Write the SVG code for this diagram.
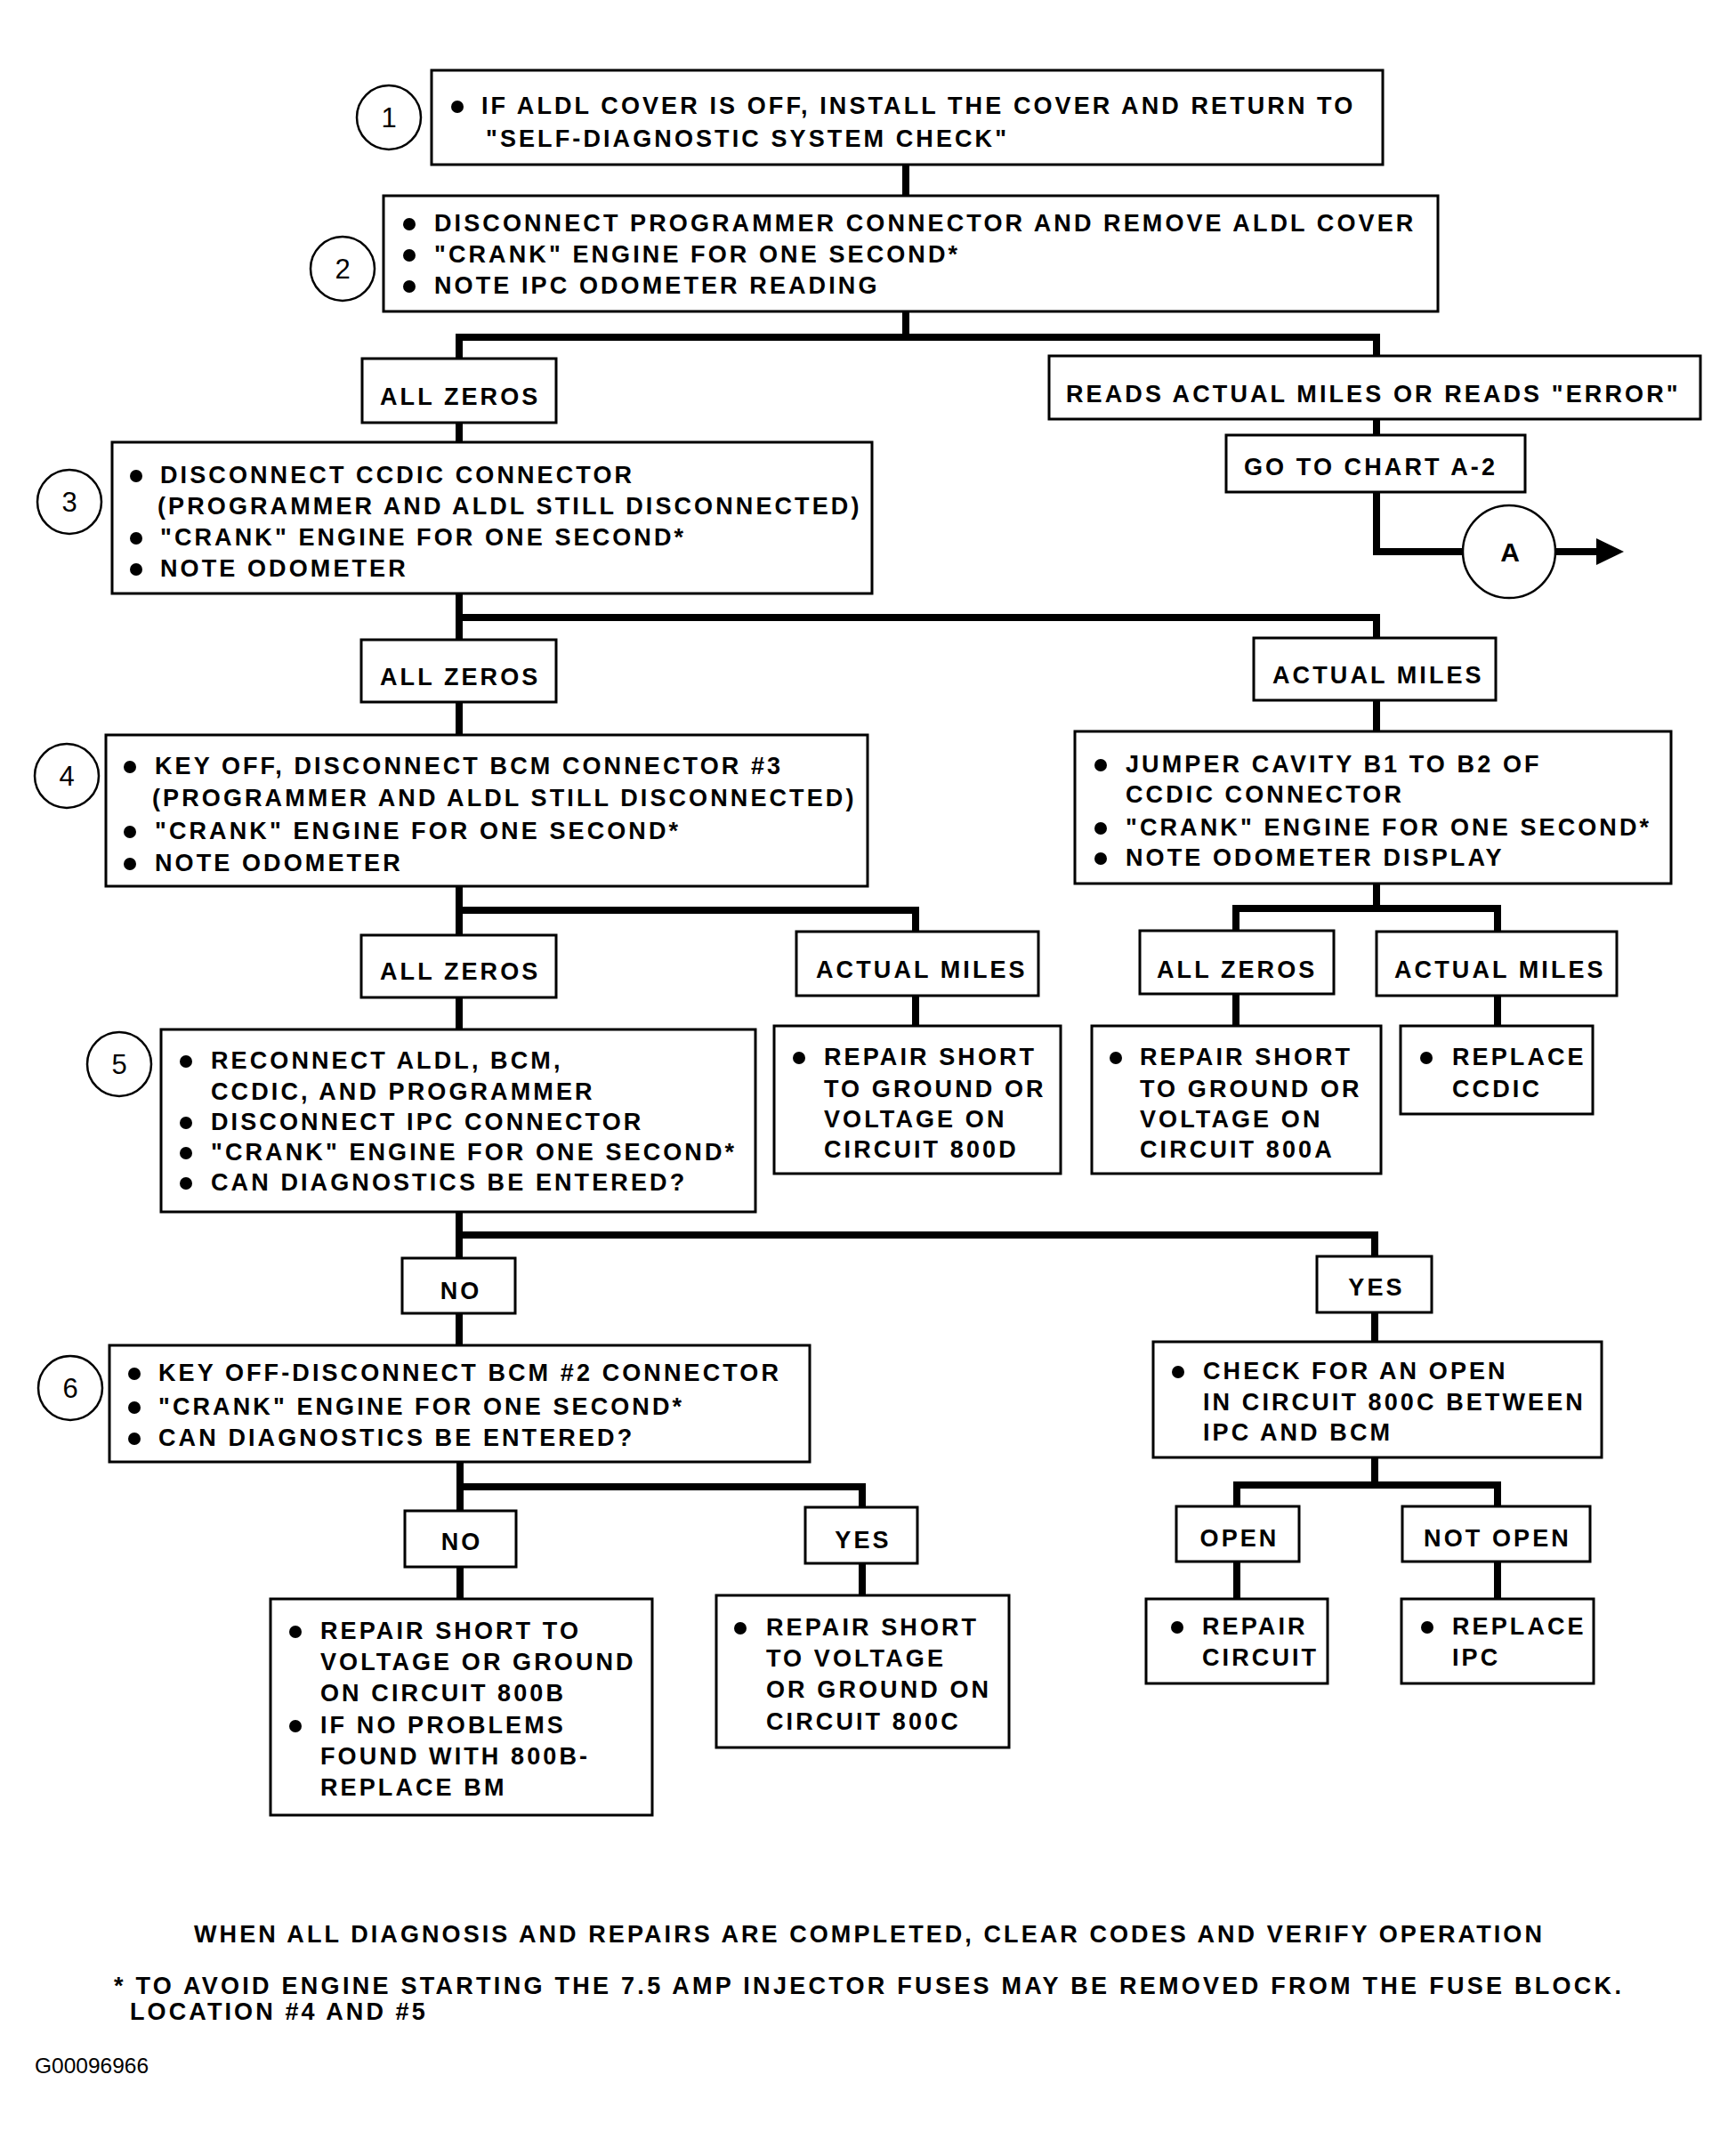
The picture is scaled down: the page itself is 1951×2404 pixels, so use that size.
<svg xmlns="http://www.w3.org/2000/svg" width="1951" height="2404" viewBox="0 0 1951 2404">
<style>
.b{fill:#fff;stroke:#000;stroke-width:3}
.nc{fill:#fff;stroke:#000;stroke-width:2.5}
.t{font-family:"Liberation Sans",Arial,sans-serif;font-size:27px;font-weight:bold;letter-spacing:3.1px;fill:#000}
.m{text-anchor:middle}
.num{font-family:"Liberation Sans",Arial,sans-serif;font-size:31px;text-anchor:middle;fill:#000}
.d{fill:#000}
.c{fill:none;stroke:#000;stroke-width:8;stroke-linejoin:miter;stroke-linecap:butt}
.f{font-family:"Liberation Sans",Arial,sans-serif;font-size:24.5px;fill:#000}
</style>
<rect width="1951" height="2404" fill="#fff"/>
<g id="connectors">
<path class="c" d="M1018 185V220"/>
<path class="c" d="M1018 350V379"/>
<path class="c" d="M516 403V379H1547V400"/>
<path class="c" d="M1547 471V489"/>
<path class="c" d="M1547 553V620H1644"/>
<path class="c" d="M1748 620H1800"/>
<polygon class="d" points="1794,605 1825,620 1794,635"/>
<path class="c" d="M516 475V497"/>
<path class="c" d="M516 667V719"/>
<path class="c" d="M516 694H1547V717"/>
<path class="c" d="M516 789V826"/>
<path class="c" d="M1547 787V822"/>
<path class="c" d="M516 996V1051"/>
<path class="c" d="M516 1023H1029V1047"/>
<path class="c" d="M516 1121V1157"/>
<path class="c" d="M1029 1119V1153"/>
<path class="c" d="M1547 993V1021"/>
<path class="c" d="M1389 1046V1021H1683V1047"/>
<path class="c" d="M1389 1117V1153"/>
<path class="c" d="M1683 1119V1153"/>
<path class="c" d="M516 1362V1414"/>
<path class="c" d="M516 1388H1545V1412"/>
<path class="c" d="M516 1476V1512"/>
<path class="c" d="M1545 1475V1508"/>
<path class="c" d="M517 1643V1698"/>
<path class="c" d="M517 1671H969V1694"/>
<path class="c" d="M517 1761V1797"/>
<path class="c" d="M969 1757V1793"/>
<path class="c" d="M1545 1638V1669"/>
<path class="c" d="M1390 1693V1669H1683V1693"/>
<path class="c" d="M1390 1755V1797"/>
<path class="c" d="M1683 1755V1797"/>
</g>
<g id="step1">
<circle class="nc" cx="437" cy="132" r="36"/>
<text class="num" x="437" y="143">1</text>
<rect class="b" x="485" y="79" width="1069" height="106"/>
<circle class="d" cx="514" cy="120" r="7"/>
<text class="t"><tspan x="541" y="128">IF ALDL COVER IS OFF, INSTALL THE COVER AND RETURN TO</tspan><tspan x="546" y="165">"SELF-DIAGNOSTIC SYSTEM CHECK"</tspan></text>
</g>
<g id="step2">
<circle class="nc" cx="385" cy="302" r="36"/>
<text class="num" x="385" y="313">2</text>
<rect class="b" x="431" y="220" width="1185" height="130"/>
<circle class="d" cx="460" cy="252" r="7"/>
<circle class="d" cx="460" cy="287" r="7"/>
<circle class="d" cx="460" cy="322" r="7"/>
<text class="t"><tspan x="488" y="260">DISCONNECT PROGRAMMER CONNECTOR AND REMOVE ALDL COVER</tspan><tspan x="488" y="295">"CRANK" ENGINE FOR ONE SECOND*</tspan><tspan x="488" y="330">NOTE IPC ODOMETER READING</tspan></text>
</g>
<g id="allzeros1">
<rect class="b" x="407" y="403" width="218" height="72"/>
<text class="t" x="427" y="455">ALL ZEROS</text>
</g>
<g id="reads-actual">
<rect class="b" x="1179" y="400" width="732" height="71"/>
<text class="t" x="1198" y="452">READS ACTUAL MILES OR READS "ERROR"</text>
</g>
<g id="goto-a2">
<rect class="b" x="1378" y="489" width="336" height="64"/>
<text class="t" x="1398" y="534">GO TO CHART A-2</text>
</g>
<g id="connector-a">
<circle class="nc" cx="1696" cy="620" r="52"/>
<text class="t m" x="1697" y="631" style="font-size:30px;letter-spacing:0">A</text>
</g>
<g id="step3">
<circle class="nc" cx="78" cy="564" r="36"/>
<text class="num" x="78" y="575">3</text>
<rect class="b" x="126" y="497" width="854" height="170"/>
<circle class="d" cx="153" cy="535" r="7"/>
<circle class="d" cx="153" cy="605" r="7"/>
<circle class="d" cx="153" cy="640" r="7"/>
<text class="t"><tspan x="180" y="543">DISCONNECT CCDIC CONNECTOR</tspan><tspan x="177" y="578">(PROGRAMMER AND ALDL STILL DISCONNECTED)</tspan><tspan x="180" y="613">"CRANK" ENGINE FOR ONE SECOND*</tspan><tspan x="180" y="648">NOTE ODOMETER</tspan></text>
</g>
<g id="allzeros2">
<rect class="b" x="406" y="719" width="219" height="70"/>
<text class="t" x="427" y="770">ALL ZEROS</text>
</g>
<g id="actualmiles1">
<rect class="b" x="1409" y="717" width="272" height="70"/>
<text class="t" x="1430" y="768">ACTUAL MILES</text>
</g>
<g id="step4">
<circle class="nc" cx="75" cy="872" r="36"/>
<text class="num" x="75" y="883">4</text>
<rect class="b" x="119" y="826" width="856" height="170"/>
<circle class="d" cx="146" cy="862" r="7"/>
<circle class="d" cx="146" cy="935" r="7"/>
<circle class="d" cx="146" cy="971" r="7"/>
<text class="t"><tspan x="174" y="870">KEY OFF, DISCONNECT BCM CONNECTOR #3</tspan><tspan x="171" y="906">(PROGRAMMER AND ALDL STILL DISCONNECTED)</tspan><tspan x="174" y="943">"CRANK" ENGINE FOR ONE SECOND*</tspan><tspan x="174" y="979">NOTE ODOMETER</tspan></text>
</g>
<g id="jumper">
<rect class="b" x="1208" y="822" width="670" height="171"/>
<circle class="d" cx="1237" cy="860" r="7"/>
<circle class="d" cx="1237" cy="931" r="7"/>
<circle class="d" cx="1237" cy="965" r="7"/>
<text class="t"><tspan x="1265" y="868">JUMPER CAVITY B1 TO B2 OF</tspan><tspan x="1265" y="902">CCDIC CONNECTOR</tspan><tspan x="1265" y="939">"CRANK" ENGINE FOR ONE SECOND*</tspan><tspan x="1265" y="973">NOTE ODOMETER DISPLAY</tspan></text>
</g>
<g id="allzeros3">
<rect class="b" x="406" y="1051" width="219" height="70"/>
<text class="t" x="427" y="1101">ALL ZEROS</text>
</g>
<g id="actualmiles2">
<rect class="b" x="895" y="1047" width="272" height="72"/>
<text class="t" x="917" y="1099">ACTUAL MILES</text>
</g>
<g id="allzeros4">
<rect class="b" x="1281" y="1046" width="218" height="71"/>
<text class="t" x="1300" y="1099">ALL ZEROS</text>
</g>
<g id="actualmiles3">
<rect class="b" x="1547" y="1047" width="270" height="72"/>
<text class="t" x="1567" y="1099">ACTUAL MILES</text>
</g>
<g id="step5">
<circle class="nc" cx="134" cy="1196" r="36"/>
<text class="num" x="134" y="1207">5</text>
<rect class="b" x="181" y="1157" width="668" height="205"/>
<circle class="d" cx="209" cy="1193" r="7"/>
<circle class="d" cx="209" cy="1262" r="7"/>
<circle class="d" cx="209" cy="1296" r="7"/>
<circle class="d" cx="209" cy="1330" r="7"/>
<text class="t"><tspan x="237" y="1201">RECONNECT ALDL, BCM,</tspan><tspan x="237" y="1236">CCDIC, AND PROGRAMMER</tspan><tspan x="237" y="1270">DISCONNECT IPC CONNECTOR</tspan><tspan x="237" y="1304">"CRANK" ENGINE FOR ONE SECOND*</tspan><tspan x="237" y="1338">CAN DIAGNOSTICS BE ENTERED?</tspan></text>
</g>
<g id="repair-800d">
<rect class="b" x="870" y="1153" width="322" height="166"/>
<circle class="d" cx="898" cy="1189" r="7"/>
<text class="t"><tspan x="926" y="1197">REPAIR SHORT</tspan><tspan x="926" y="1233">TO GROUND OR</tspan><tspan x="926" y="1267">VOLTAGE ON</tspan><tspan x="926" y="1301">CIRCUIT 800D</tspan></text>
</g>
<g id="repair-800a">
<rect class="b" x="1227" y="1153" width="325" height="166"/>
<circle class="d" cx="1254" cy="1189" r="7"/>
<text class="t"><tspan x="1281" y="1197">REPAIR SHORT</tspan><tspan x="1281" y="1233">TO GROUND OR</tspan><tspan x="1281" y="1267">VOLTAGE ON</tspan><tspan x="1281" y="1301">CIRCUIT 800A</tspan></text>
</g>
<g id="replace-ccdic">
<rect class="b" x="1574" y="1153" width="216" height="99"/>
<circle class="d" cx="1603" cy="1189" r="7"/>
<text class="t"><tspan x="1632" y="1197">REPLACE</tspan><tspan x="1632" y="1233">CCDIC</tspan></text>
</g>
<g id="no1">
<rect class="b" x="452" y="1414" width="127" height="62"/>
<text class="t m" x="518" y="1460">NO</text>
</g>
<g id="yes1">
<rect class="b" x="1480" y="1412" width="129" height="63"/>
<text class="t m" x="1547" y="1456">YES</text>
</g>
<g id="step6">
<circle class="nc" cx="79" cy="1560" r="36"/>
<text class="num" x="79" y="1571">6</text>
<rect class="b" x="123" y="1512" width="787" height="131"/>
<circle class="d" cx="151" cy="1544" r="7"/>
<circle class="d" cx="151" cy="1582" r="7"/>
<circle class="d" cx="151" cy="1617" r="7"/>
<text class="t"><tspan x="178" y="1552">KEY OFF-DISCONNECT BCM #2 CONNECTOR</tspan><tspan x="178" y="1590">"CRANK" ENGINE FOR ONE SECOND*</tspan><tspan x="178" y="1625">CAN DIAGNOSTICS BE ENTERED?</tspan></text>
</g>
<g id="check-open">
<rect class="b" x="1296" y="1508" width="504" height="130"/>
<circle class="d" cx="1324" cy="1542" r="7"/>
<text class="t"><tspan x="1352" y="1550">CHECK FOR AN OPEN</tspan><tspan x="1352" y="1585">IN CIRCUIT 800C BETWEEN</tspan><tspan x="1352" y="1619">IPC AND BCM</tspan></text>
</g>
<g id="no2">
<rect class="b" x="455" y="1698" width="125" height="63"/>
<text class="t m" x="519" y="1742">NO</text>
</g>
<g id="yes2">
<rect class="b" x="905" y="1694" width="126" height="63"/>
<text class="t m" x="970" y="1740">YES</text>
</g>
<g id="open">
<rect class="b" x="1322" y="1693" width="138" height="62"/>
<text class="t m" x="1393" y="1738">OPEN</text>
</g>
<g id="not-open">
<rect class="b" x="1576" y="1693" width="211" height="62"/>
<text class="t m" x="1683" y="1738">NOT OPEN</text>
</g>
<g id="repair-800b">
<rect class="b" x="304" y="1797" width="429" height="243"/>
<circle class="d" cx="332" cy="1834" r="7"/>
<circle class="d" cx="332" cy="1940" r="7"/>
<text class="t"><tspan x="360" y="1842">REPAIR SHORT TO</tspan><tspan x="360" y="1877">VOLTAGE OR GROUND</tspan><tspan x="360" y="1912">ON CIRCUIT 800B</tspan><tspan x="360" y="1948">IF NO PROBLEMS</tspan><tspan x="360" y="1983">FOUND WITH 800B-</tspan><tspan x="360" y="2018">REPLACE BM</tspan></text>
</g>
<g id="repair-800c">
<rect class="b" x="805" y="1793" width="329" height="171"/>
<circle class="d" cx="832" cy="1830" r="7"/>
<text class="t"><tspan x="861" y="1838">REPAIR SHORT</tspan><tspan x="861" y="1873">TO VOLTAGE</tspan><tspan x="861" y="1908">OR GROUND ON</tspan><tspan x="861" y="1944">CIRCUIT 800C</tspan></text>
</g>
<g id="repair-circuit">
<rect class="b" x="1288" y="1797" width="204" height="95"/>
<circle class="d" cx="1323" cy="1829" r="7"/>
<text class="t"><tspan x="1351" y="1837">REPAIR</tspan><tspan x="1351" y="1872">CIRCUIT</tspan></text>
</g>
<g id="replace-ipc">
<rect class="b" x="1575" y="1797" width="216" height="95"/>
<circle class="d" cx="1604" cy="1829" r="7"/>
<text class="t"><tspan x="1632" y="1837">REPLACE</tspan><tspan x="1632" y="1872">IPC</tspan></text>
</g>
<g id="notes">
<text class="t" x="218" y="2183" textLength="1518" lengthAdjust="spacing">WHEN ALL DIAGNOSIS AND REPAIRS ARE COMPLETED, CLEAR CODES AND VERIFY OPERATION</text>
<text class="t" x="128" y="2241" textLength="1697" lengthAdjust="spacing">* TO AVOID ENGINE STARTING THE 7.5 AMP INJECTOR FUSES MAY BE REMOVED FROM THE FUSE BLOCK.</text>
<text class="t" x="146" y="2270">LOCATION #4 AND #5</text>
<text class="f" x="39" y="2330">G00096966</text>
</g>
</svg>
